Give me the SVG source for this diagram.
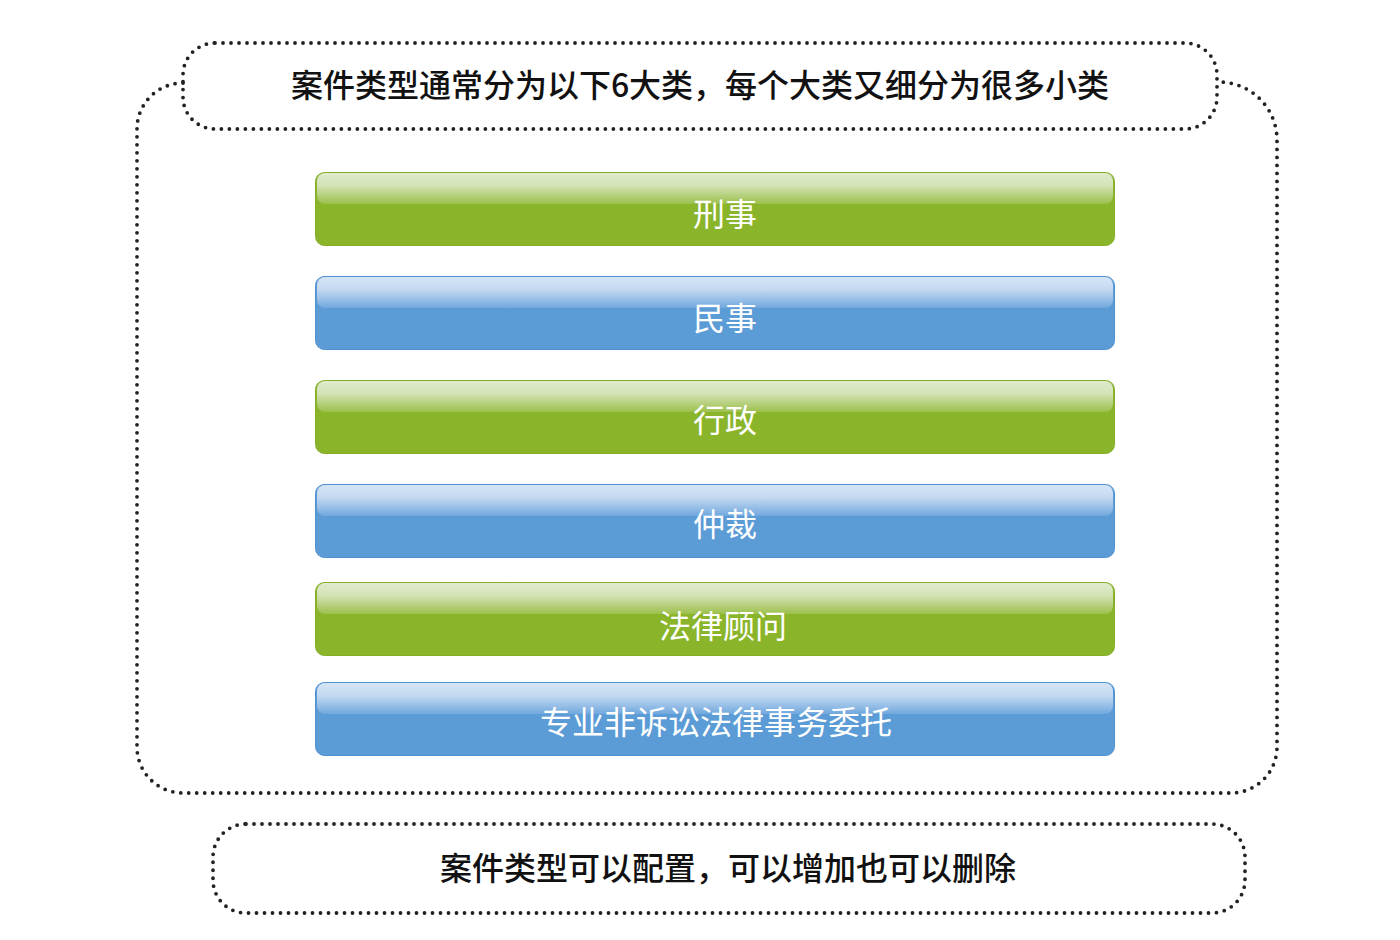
<svg xmlns="http://www.w3.org/2000/svg" width="1400" height="940" viewBox="0 0 1400 940">
<style>
.dot{fill:none;stroke:#222;stroke-width:3.8;stroke-linecap:round;stroke-dasharray:0 8}
.t{font-family:"Noto Sans CJK SC","Liberation Sans",sans-serif;font-size:32px;font-weight:500;fill:#111;text-anchor:middle}
.bt{font-family:"Noto Sans CJK SC","Liberation Sans",sans-serif;font-size:32px;fill:#fff;text-anchor:middle}
.g{fill:#8ab52b;stroke:#84ae27;stroke-width:1}
.b{fill:#5b9bd6;stroke:#4f90d0;stroke-width:1}
</style>
<defs>
<linearGradient id="gg" x1="0" y1="0" x2="0" y2="1">
<stop offset="0" stop-color="#e0ebcd"/>
<stop offset="0.4" stop-color="#d4e3b7"/>
<stop offset="1" stop-color="#9cc04b"/>
</linearGradient>
<linearGradient id="bg" x1="0" y1="0" x2="0" y2="1">
<stop offset="0" stop-color="#d5e5f6"/>
<stop offset="0.4" stop-color="#c4daf1"/>
<stop offset="1" stop-color="#71a8de"/>
</linearGradient>
</defs>
<g id="connectors">
<path class="dot" d="M183,83 A46,46 0 0 0 137,129 V747 A46,46 0 0 0 183,793 H1231 A46,46 0 0 0 1277,747 V140 A58,58 0 0 0 1219,82"/>
</g>
<g id="title">
<rect class="dot" x="183" y="43" width="1034" height="86" rx="32" ry="32"/>
<text class="t" x="700" y="97">案件类型通常分为以下6大类，每个大类又细分为很多小类</text>
</g>
<g id="n1">
<rect class="g" x="315.5" y="172.5" width="799" height="73" rx="9"/>
<rect x="317" y="173" width="796" height="31" rx="8" fill="url(#gg)"/>
<text class="bt" x="725" y="226">刑事</text>
</g>
<g id="n2">
<rect class="b" x="315.5" y="276.5" width="799" height="73" rx="9"/>
<rect x="317" y="277" width="796" height="31" rx="8" fill="url(#bg)"/>
<text class="bt" x="725" y="330">民事</text>
</g>
<g id="n3">
<rect class="g" x="315.5" y="380.5" width="799" height="73" rx="9"/>
<rect x="317" y="381" width="796" height="31" rx="8" fill="url(#gg)"/>
<text class="bt" x="725" y="432">行政</text>
</g>
<g id="n4">
<rect class="b" x="315.5" y="484.5" width="799" height="73" rx="9"/>
<rect x="317" y="485" width="796" height="31" rx="8" fill="url(#bg)"/>
<text class="bt" x="725" y="536">仲裁</text>
</g>
<g id="n5">
<rect class="g" x="315.5" y="582.5" width="799" height="73" rx="9"/>
<rect x="317" y="583" width="796" height="31" rx="8" fill="url(#gg)"/>
<text class="bt" x="723" y="638">法律顾问</text>
</g>
<g id="n6">
<rect class="b" x="315.5" y="682.5" width="799" height="73" rx="9"/>
<rect x="317" y="683" width="796" height="31" rx="8" fill="url(#bg)"/>
<text class="bt" x="716" y="734">专业非诉讼法律事务委托</text>
</g>
<g id="note">
<rect class="dot" x="213" y="824" width="1032" height="89" rx="33" ry="33"/>
<text class="t" x="728" y="880">案件类型可以配置，可以增加也可以删除</text>
</g>
</svg>
